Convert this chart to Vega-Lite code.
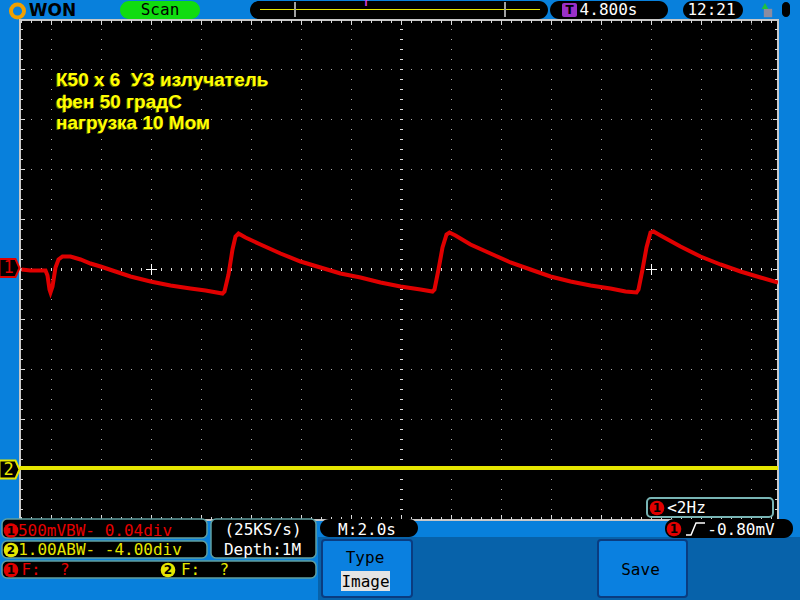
{
  "$schema": "https://vega.github.io/schema/vega-lite/v6.json",
  "width": 758,
  "height": 500,
  "autosize": {"type": "none"},
  "padding": {"left": 20, "top": 20, "right": 22, "bottom": 80},
  "background": "#0880dc",
  "config": {"view": {"fill": "black", "stroke": "#c8c8c8", "strokeWidth": 2}},
  "datasets": {
    "ch1": [
      {"x": -7.6, "y": 0}, {"x": -7.42, "y": -0.02}, {"x": -7.22, "y": -0.02}, {"x": -7.12, "y": -0.02},
      {"x": -7.08, "y": -0.12}, {"x": -7.04, "y": -0.4}, {"x": -7.02, "y": -0.46}, {"x": -6.98, "y": -0.34},
      {"x": -6.92, "y": 0.04}, {"x": -6.86, "y": 0.2}, {"x": -6.78, "y": 0.26}, {"x": -6.62, "y": 0.26},
      {"x": -6.42, "y": 0.2}, {"x": -6.22, "y": 0.12}, {"x": -6.02, "y": 0.06}, {"x": -5.72, "y": -0.04},
      {"x": -5.42, "y": -0.14}, {"x": -5.02, "y": -0.24}, {"x": -4.62, "y": -0.32}, {"x": -4.22, "y": -0.38},
      {"x": -3.92, "y": -0.42}, {"x": -3.58, "y": -0.48}, {"x": -3.54, "y": -0.44}, {"x": -3.46, "y": -0.1},
      {"x": -3.38, "y": 0.4}, {"x": -3.32, "y": 0.66}, {"x": -3.26, "y": 0.72}, {"x": -3.12, "y": 0.64},
      {"x": -2.82, "y": 0.5}, {"x": -2.42, "y": 0.32}, {"x": -2.02, "y": 0.16}, {"x": -1.62, "y": 0.04},
      {"x": -1.22, "y": -0.08}, {"x": -0.82, "y": -0.16}, {"x": -0.42, "y": -0.26}, {"x": -0.02, "y": -0.34},
      {"x": 0.38, "y": -0.4}, {"x": 0.62, "y": -0.44}, {"x": 0.66, "y": -0.4}, {"x": 0.74, "y": 0},
      {"x": 0.82, "y": 0.44}, {"x": 0.9, "y": 0.7}, {"x": 0.96, "y": 0.74}, {"x": 1.08, "y": 0.68},
      {"x": 1.38, "y": 0.5}, {"x": 1.78, "y": 0.32}, {"x": 2.18, "y": 0.14}, {"x": 2.58, "y": 0},
      {"x": 2.98, "y": -0.14}, {"x": 3.38, "y": -0.24}, {"x": 3.78, "y": -0.32}, {"x": 4.18, "y": -0.38},
      {"x": 4.48, "y": -0.44}, {"x": 4.7, "y": -0.46}, {"x": 4.74, "y": -0.4}, {"x": 4.82, "y": 0},
      {"x": 4.9, "y": 0.44}, {"x": 4.98, "y": 0.74}, {"x": 5.04, "y": 0.76}, {"x": 5.18, "y": 0.68},
      {"x": 5.58, "y": 0.46}, {"x": 5.98, "y": 0.26}, {"x": 6.38, "y": 0.1}, {"x": 6.78, "y": -0.04},
      {"x": 7.18, "y": -0.16}, {"x": 7.53, "y": -0.26}
    ],
    "ch2": [{"x": -7.63, "y": -3.97}, {"x": 7.53, "y": -3.97}],
    "gridv": [{"x": -7}, {"x": -6}, {"x": -5}, {"x": -4}, {"x": -3}, {"x": -2}, {"x": -1}, {"x": 1}, {"x": 2}, {"x": 3}, {"x": 4}, {"x": 5}, {"x": 6}, {"x": 7}],
    "gridh": [{"y": -4}, {"y": -3}, {"y": -2}, {"y": -1}, {"y": 1}, {"y": 2}, {"y": 3}, {"y": 4}],
    "center": [
      {"x": -7.61, "x2": 7.53, "y": 0, "y2": 0},
      {"x": 0, "x2": 0, "y": 5.01, "y2": -5.01}
    ],
    "edges": [
      {"kind": "s", "x": -7.61, "x2": 7.53, "y": 4.99, "y2": 4.99},
      {"kind": "s", "x": -7.61, "x2": 7.53, "y": -5.01, "y2": -5.01},
      {"kind": "s", "x": -7.63, "x2": -7.63, "y": 5.01, "y2": -5.01},
      {"kind": "s", "x": 7.53, "x2": 7.53, "y": 5.01, "y2": -5.01},
      {"kind": "l", "x": -7.01, "x2": 7.0, "y": 4.99, "y2": 4.99},
      {"kind": "l", "x": -7.01, "x2": 7.0, "y": -5.01, "y2": -5.01},
      {"kind": "l", "x": -7.63, "x2": -7.63, "y": 4.01, "y2": -4.01},
      {"kind": "l", "x": 7.53, "x2": 7.53, "y": 4.01, "y2": -4.01}
    ],
    "cross": [{"x": -5, "y": 0}, {"x": 5, "y": 0}],
    "rects": [
      {"kind": "panel", "x1": -1.67, "x2": 7.97, "y1": -5.35, "y2": -6.61},
      {"kind": "button", "x1": -1.59, "x2": 0.21, "y1": -5.41, "y2": -6.55},
      {"kind": "button", "x1": 3.93, "x2": 5.71, "y1": -5.41, "y2": -6.55},
      {"kind": "label", "x1": -1.21, "x2": -0.23, "y1": -6.03, "y2": -6.43},
      {"kind": "pill", "x1": -3.03, "x2": 2.93, "y1": 5.37, "y2": 5.01},
      {"kind": "pill", "x1": 2.97, "x2": 5.33, "y1": 5.37, "y2": 5.01},
      {"kind": "pill", "x1": 5.63, "x2": 6.83, "y1": 5.37, "y2": 5.01},
      {"kind": "pill", "x1": -1.63, "x2": 0.33, "y1": -4.99, "y2": -5.35},
      {"kind": "pill", "x1": 5.27, "x2": 7.83, "y1": -4.99, "y2": -5.37},
      {"kind": "box", "x1": -7.99, "x2": -3.89, "y1": -4.99, "y2": -5.37},
      {"kind": "box", "x1": -7.99, "x2": -3.89, "y1": -5.43, "y2": -5.77},
      {"kind": "box", "x1": -3.81, "x2": -1.71, "y1": -4.99, "y2": -5.77},
      {"kind": "box", "x1": -7.99, "x2": -1.71, "y1": -5.83, "y2": -6.17},
      {"kind": "hzbox", "x1": 4.91, "x2": 7.43, "y1": -4.57, "y2": -4.95},
      {"kind": "scan", "x1": -5.63, "x2": -4.03, "y1": 5.37, "y2": 5.01},
      {"kind": "icon", "x1": 3.21, "x2": 3.51, "y1": 5.33, "y2": 5.05},
      {"kind": "battery", "x1": 7.61, "x2": 7.77, "y1": 5.35, "y2": 5.05}
    ],
    "labels": [
      {"kind": "white", "text": "4.800s", "x": 4.14, "y": 5.19},
      {"kind": "white", "text": "12:21", "x": 6.2, "y": 5.19},
      {"kind": "white", "text": "(25KS/s)", "x": -2.77, "y": -5.21},
      {"kind": "white", "text": "Depth:1M", "x": -2.78, "y": -5.6},
      {"kind": "white", "text": "M:2.0s", "x": -0.69, "y": -5.2},
      {"kind": "white", "text": "<2Hz", "x": 5.7, "y": -4.77},
      {"kind": "white", "text": "-0.80mV", "x": 6.79, "y": -5.21},
      {"kind": "red", "text": "500mVBW- 0.04div", "x": -6.13, "y": -5.22},
      {"kind": "red", "text": "F:\u00a0\u00a0?", "x": -7.12, "y": -6.01},
      {"kind": "yellow", "text": "1.00ABW- -4.00div", "x": -6.03, "y": -5.61},
      {"kind": "yellow", "text": "F:\u00a0\u00a0?", "x": -3.93, "y": -6.01},
      {"kind": "black", "text": "Scan", "x": -4.83, "y": 5.19},
      {"kind": "black", "text": "Type", "x": -0.73, "y": -5.76},
      {"kind": "black", "text": "Image", "x": -0.72, "y": -6.24},
      {"kind": "black", "text": "Save", "x": 4.78, "y": -6.0}
    ],
    "nums": [
      {"ch": "1", "x": -7.81, "y": -5.22},
      {"ch": "1", "x": -7.81, "y": -6.01},
      {"ch": "1", "x": 5.11, "y": -4.77},
      {"ch": "1", "x": 5.45, "y": -5.19},
      {"ch": "2", "x": -7.81, "y": -5.61},
      {"ch": "2", "x": -4.67, "y": -6.01}
    ],
    "chmark": [{"ch": "1", "x": -7.84, "y": 0.03}, {"ch": "2", "x": -7.84, "y": -4.0}],
    "notes": [
      {"line": "К50 х 6\u00a0\u00a0УЗ излучатель", "x": -6.91, "y": 3.79},
      {"line": "фен 50 градС", "x": -6.91, "y": 3.36},
      {"line": "нагрузка 10 Мом", "x": -6.91, "y": 2.93}
    ],
    "tbline": [{"x": -2.83, "y": 5.2}, {"x": 2.77, "y": 5.2}],
    "brackets": [{"x": -2.13, "y1": 5.35, "y2": 5.05}, {"x": 2.07, "y1": 5.35, "y2": 5.05}],
    "tmark": [{"text": "T", "x": -0.71, "y": 5.31}],
    "logo": [{"text": "WON", "x": -6.98, "y": 5.17, "rx": -7.68}],
    "ticon": [{"text": "T", "x": 3.36, "y": 5.19}],
    "edgesym": [{"x": 5.69, "y": -5.31}, {"x": 5.79, "y": -5.31}, {"x": 5.89, "y": -5.07}, {"x": 6.07, "y": -5.07}],
    "usb": [{"part": "dev", "x": 7.33, "y": 5.13}, {"part": "arrow", "x": 7.27, "y": 5.27}]
  },
  "layer": [
    {
      "data": {"name": "gridv"},
      "mark": {"type": "rule", "stroke": "#a8a8a8", "strokeWidth": 1, "strokeDash": [1, 9], "clip": true},
      "encoding": {
        "x": {"field": "x", "type": "quantitative", "scale": {"domain": [-7.63, 7.53], "nice": false, "zero": false}, "axis": null},
        "y": {"datum": 5.01, "type": "quantitative", "scale": {"domain": [-5.01, 4.99], "nice": false, "zero": false}, "axis": null},
        "y2": {"datum": -5.01}
      }
    },
    {
      "data": {"name": "gridh"},
      "mark": {"type": "rule", "stroke": "#a8a8a8", "strokeWidth": 1, "strokeDash": [1, 9], "clip": true},
      "encoding": {
        "y": {"field": "y", "type": "quantitative", "scale": {"domain": [-5.01, 4.99], "nice": false, "zero": false}, "axis": null},
        "x": {"datum": -7.61, "type": "quantitative", "scale": {"domain": [-7.63, 7.53], "nice": false, "zero": false}, "axis": null},
        "x2": {"datum": 7.53}
      }
    },
    {
      "data": {"name": "center"},
      "mark": {"type": "rule", "stroke": "#dcdcdc", "strokeWidth": 3, "strokeDash": [1, 9], "clip": true},
      "encoding": {
        "x": {"field": "x", "type": "quantitative", "scale": {"domain": [-7.63, 7.53], "nice": false, "zero": false}, "axis": null},
        "x2": {"field": "x2"},
        "y": {"field": "y", "type": "quantitative", "scale": {"domain": [-5.01, 4.99], "nice": false, "zero": false}, "axis": null},
        "y2": {"field": "y2"}
      }
    },
    {
      "data": {"name": "edges"},
      "transform": [{"filter": "datum.kind === 's'"}],
      "mark": {"type": "rule", "stroke": "#d8d8d8", "strokeWidth": 6, "strokeDash": [1, 9], "clip": true},
      "encoding": {
        "x": {"field": "x", "type": "quantitative", "scale": {"domain": [-7.63, 7.53], "nice": false, "zero": false}, "axis": null},
        "x2": {"field": "x2"},
        "y": {"field": "y", "type": "quantitative", "scale": {"domain": [-5.01, 4.99], "nice": false, "zero": false}, "axis": null},
        "y2": {"field": "y2"}
      }
    },
    {
      "data": {"name": "edges"},
      "transform": [{"filter": "datum.kind === 'l'"}],
      "mark": {"type": "rule", "stroke": "#d8d8d8", "strokeWidth": 10, "strokeDash": [1, 49], "clip": true},
      "encoding": {
        "x": {"field": "x", "type": "quantitative", "scale": {"domain": [-7.63, 7.53], "nice": false, "zero": false}, "axis": null},
        "x2": {"field": "x2"},
        "y": {"field": "y", "type": "quantitative", "scale": {"domain": [-5.01, 4.99], "nice": false, "zero": false}, "axis": null},
        "y2": {"field": "y2"}
      }
    },
    {
      "data": {"name": "cross"},
      "mark": {"type": "point", "shape": "M-1,0H1M0,-1V1", "size": 121, "filled": false, "stroke": "white", "strokeWidth": 1, "opacity": 1},
      "encoding": {
        "x": {"field": "x", "type": "quantitative", "scale": {"domain": [-7.63, 7.53], "nice": false, "zero": false}, "axis": null},
        "y": {"field": "y", "type": "quantitative", "scale": {"domain": [-5.01, 4.99], "nice": false, "zero": false}, "axis": null}
      }
    },
    {
      "data": {"name": "rects"},
      "transform": [{"filter": "datum.kind === 'panel'"}],
      "mark": {"type": "rect", "fill": "#0762aa", "clip": false},
      "encoding": {
        "x": {"field": "x1", "type": "quantitative", "scale": {"domain": [-7.63, 7.53], "nice": false, "zero": false}, "axis": null},
        "x2": {"field": "x2"},
        "y": {"field": "y1", "type": "quantitative", "scale": {"domain": [-5.01, 4.99], "nice": false, "zero": false}, "axis": null},
        "y2": {"field": "y2"}
      }
    },
    {
      "data": {"name": "rects"},
      "transform": [{"filter": "datum.kind === 'button'"}],
      "mark": {"type": "rect", "fill": "#0a80e0", "stroke": "#0a3c80", "strokeWidth": 2, "cornerRadius": 3, "clip": false},
      "encoding": {
        "x": {"field": "x1", "type": "quantitative", "scale": {"domain": [-7.63, 7.53], "nice": false, "zero": false}, "axis": null},
        "x2": {"field": "x2"},
        "y": {"field": "y1", "type": "quantitative", "scale": {"domain": [-5.01, 4.99], "nice": false, "zero": false}, "axis": null},
        "y2": {"field": "y2"}
      }
    },
    {
      "data": {"name": "rects"},
      "transform": [{"filter": "datum.kind === 'label'"}],
      "mark": {"type": "rect", "fill": "#e4e4e4", "clip": false},
      "encoding": {
        "x": {"field": "x1", "type": "quantitative", "scale": {"domain": [-7.63, 7.53], "nice": false, "zero": false}, "axis": null},
        "x2": {"field": "x2"},
        "y": {"field": "y1", "type": "quantitative", "scale": {"domain": [-5.01, 4.99], "nice": false, "zero": false}, "axis": null},
        "y2": {"field": "y2"}
      }
    },
    {
      "data": {"name": "rects"},
      "transform": [{"filter": "datum.kind === 'pill' || datum.kind === 'battery'"}],
      "mark": {"type": "rect", "fill": "black", "cornerRadius": 9, "clip": false},
      "encoding": {
        "x": {"field": "x1", "type": "quantitative", "scale": {"domain": [-7.63, 7.53], "nice": false, "zero": false}, "axis": null},
        "x2": {"field": "x2"},
        "y": {"field": "y1", "type": "quantitative", "scale": {"domain": [-5.01, 4.99], "nice": false, "zero": false}, "axis": null},
        "y2": {"field": "y2"}
      }
    },
    {
      "data": {"name": "rects"},
      "transform": [{"filter": "datum.kind === 'box'"}],
      "mark": {"type": "rect", "fill": "black", "stroke": "#5f9ea0", "strokeWidth": 1.5, "cornerRadius": 5, "clip": false},
      "encoding": {
        "x": {"field": "x1", "type": "quantitative", "scale": {"domain": [-7.63, 7.53], "nice": false, "zero": false}, "axis": null},
        "x2": {"field": "x2"},
        "y": {"field": "y1", "type": "quantitative", "scale": {"domain": [-5.01, 4.99], "nice": false, "zero": false}, "axis": null},
        "y2": {"field": "y2"}
      }
    },
    {
      "data": {"name": "rects"},
      "transform": [{"filter": "datum.kind === 'hzbox'"}],
      "mark": {"type": "rect", "fill": "black", "stroke": "#78b4b4", "strokeWidth": 2, "cornerRadius": 4, "clip": false},
      "encoding": {
        "x": {"field": "x1", "type": "quantitative", "scale": {"domain": [-7.63, 7.53], "nice": false, "zero": false}, "axis": null},
        "x2": {"field": "x2"},
        "y": {"field": "y1", "type": "quantitative", "scale": {"domain": [-5.01, 4.99], "nice": false, "zero": false}, "axis": null},
        "y2": {"field": "y2"}
      }
    },
    {
      "data": {"name": "rects"},
      "transform": [{"filter": "datum.kind === 'scan'"}],
      "mark": {"type": "rect", "fill": "#10dc10", "cornerRadius": 9, "clip": false},
      "encoding": {
        "x": {"field": "x1", "type": "quantitative", "scale": {"domain": [-7.63, 7.53], "nice": false, "zero": false}, "axis": null},
        "x2": {"field": "x2"},
        "y": {"field": "y1", "type": "quantitative", "scale": {"domain": [-5.01, 4.99], "nice": false, "zero": false}, "axis": null},
        "y2": {"field": "y2"}
      }
    },
    {
      "data": {"name": "rects"},
      "transform": [{"filter": "datum.kind === 'icon'"}],
      "mark": {"type": "rect", "fill": "#9a30c8", "cornerRadius": 2, "clip": false},
      "encoding": {
        "x": {"field": "x1", "type": "quantitative", "scale": {"domain": [-7.63, 7.53], "nice": false, "zero": false}, "axis": null},
        "x2": {"field": "x2"},
        "y": {"field": "y1", "type": "quantitative", "scale": {"domain": [-5.01, 4.99], "nice": false, "zero": false}, "axis": null},
        "y2": {"field": "y2"}
      }
    },
    {
      "data": {"name": "ch2"},
      "mark": {"type": "line", "stroke": "#e6e600", "strokeWidth": 4, "clip": true},
      "encoding": {
        "x": {"field": "x", "type": "quantitative", "scale": {"domain": [-7.63, 7.53], "nice": false, "zero": false}, "axis": null},
        "y": {"field": "y", "type": "quantitative", "scale": {"domain": [-5.01, 4.99], "nice": false, "zero": false}, "axis": null}
      }
    },
    {
      "data": {"name": "ch1"},
      "mark": {"type": "line", "stroke": "#e00000", "strokeWidth": 4, "clip": true},
      "encoding": {
        "x": {"field": "x", "type": "quantitative", "scale": {"domain": [-7.63, 7.53], "nice": false, "zero": false}, "axis": null},
        "y": {"field": "y", "type": "quantitative", "scale": {"domain": [-5.01, 4.99], "nice": false, "zero": false}, "axis": null}
      }
    },
    {
      "data": {"name": "chmark"},
      "mark": {"type": "point", "shape": "M-1,-0.9L0.6,-0.9L1,0L0.6,0.9L-1,0.9Z", "size": 400, "filled": true, "fill": "black", "strokeWidth": 2, "opacity": 1, "clip": false},
      "encoding": {
        "x": {"field": "x", "type": "quantitative", "scale": {"domain": [-7.63, 7.53], "nice": false, "zero": false}, "axis": null},
        "y": {"field": "y", "type": "quantitative", "scale": {"domain": [-5.01, 4.99], "nice": false, "zero": false}, "axis": null},
        "stroke": {"field": "ch", "type": "nominal", "scale": {"domain": ["1", "2"], "range": ["#e00000", "#e6e600"]}, "legend": null}
      }
    },
    {
      "data": {"name": "chmark"},
      "mark": {"type": "text", "font": "DejaVu Sans Mono", "fontSize": 17, "baseline": "middle", "align": "center", "dx": -1, "clip": false},
      "encoding": {
        "x": {"field": "x", "type": "quantitative", "scale": {"domain": [-7.63, 7.53], "nice": false, "zero": false}, "axis": null},
        "y": {"field": "y", "type": "quantitative", "scale": {"domain": [-5.01, 4.99], "nice": false, "zero": false}, "axis": null},
        "text": {"field": "ch"},
        "color": {"field": "ch", "type": "nominal", "scale": {"domain": ["1", "2"], "range": ["#e00000", "#e6e600"]}, "legend": null}
      }
    },
    {
      "data": {"name": "notes"},
      "mark": {"type": "text", "font": "Liberation Sans", "fontWeight": "bold", "fontSize": 19, "baseline": "middle", "align": "left", "fill": "#5c5c00", "dx": -1, "dy": 1, "clip": false},
      "encoding": {
        "x": {"field": "x", "type": "quantitative", "scale": {"domain": [-7.63, 7.53], "nice": false, "zero": false}, "axis": null},
        "y": {"field": "y", "type": "quantitative", "scale": {"domain": [-5.01, 4.99], "nice": false, "zero": false}, "axis": null},
        "text": {"field": "line"}
      }
    },
    {
      "data": {"name": "notes"},
      "mark": {"type": "text", "font": "Liberation Sans", "fontWeight": "bold", "fontSize": 19, "baseline": "middle", "align": "left", "fill": "#ffff00", "clip": false},
      "encoding": {
        "x": {"field": "x", "type": "quantitative", "scale": {"domain": [-7.63, 7.53], "nice": false, "zero": false}, "axis": null},
        "y": {"field": "y", "type": "quantitative", "scale": {"domain": [-5.01, 4.99], "nice": false, "zero": false}, "axis": null},
        "text": {"field": "line"}
      }
    },
    {
      "data": {"name": "tbline"},
      "mark": {"type": "line", "stroke": "#e6e600", "strokeWidth": 1, "clip": false},
      "encoding": {
        "x": {"field": "x", "type": "quantitative", "scale": {"domain": [-7.63, 7.53], "nice": false, "zero": false}, "axis": null},
        "y": {"field": "y", "type": "quantitative", "scale": {"domain": [-5.01, 4.99], "nice": false, "zero": false}, "axis": null}
      }
    },
    {
      "data": {"name": "brackets"},
      "mark": {"type": "rule", "stroke": "#a0a0a0", "strokeWidth": 2, "clip": false},
      "encoding": {
        "x": {"field": "x", "type": "quantitative", "scale": {"domain": [-7.63, 7.53], "nice": false, "zero": false}, "axis": null},
        "y": {"field": "y1", "type": "quantitative", "scale": {"domain": [-5.01, 4.99], "nice": false, "zero": false}, "axis": null},
        "y2": {"field": "y2"}
      }
    },
    {
      "data": {"name": "tmark"},
      "mark": {"type": "text", "font": "DejaVu Sans", "fontWeight": "bold", "fontSize": 8, "baseline": "middle", "align": "center", "fill": "#e040e0", "clip": false},
      "encoding": {
        "x": {"field": "x", "type": "quantitative", "scale": {"domain": [-7.63, 7.53], "nice": false, "zero": false}, "axis": null},
        "y": {"field": "y", "type": "quantitative", "scale": {"domain": [-5.01, 4.99], "nice": false, "zero": false}, "axis": null},
        "text": {"field": "text"}
      }
    },
    {
      "data": {"name": "logo"},
      "mark": {"type": "point", "shape": "circle", "size": 170, "filled": false, "stroke": "#f0a000", "strokeWidth": 4, "opacity": 1, "clip": false},
      "encoding": {
        "x": {"field": "rx", "type": "quantitative", "scale": {"domain": [-7.63, 7.53], "nice": false, "zero": false}, "axis": null},
        "y": {"field": "y", "type": "quantitative", "scale": {"domain": [-5.01, 4.99], "nice": false, "zero": false}, "axis": null}
      }
    },
    {
      "data": {"name": "logo"},
      "mark": {"type": "text", "font": "DejaVu Sans", "fontWeight": "bold", "fontSize": 17, "baseline": "middle", "align": "center", "fill": "black", "clip": false},
      "encoding": {
        "x": {"field": "x", "type": "quantitative", "scale": {"domain": [-7.63, 7.53], "nice": false, "zero": false}, "axis": null},
        "y": {"field": "y", "type": "quantitative", "scale": {"domain": [-5.01, 4.99], "nice": false, "zero": false}, "axis": null},
        "text": {"field": "text"}
      }
    },
    {
      "data": {"name": "ticon"},
      "mark": {"type": "text", "font": "DejaVu Sans", "fontWeight": "bold", "fontSize": 12, "baseline": "middle", "align": "center", "fill": "black", "clip": false},
      "encoding": {
        "x": {"field": "x", "type": "quantitative", "scale": {"domain": [-7.63, 7.53], "nice": false, "zero": false}, "axis": null},
        "y": {"field": "y", "type": "quantitative", "scale": {"domain": [-5.01, 4.99], "nice": false, "zero": false}, "axis": null},
        "text": {"field": "text"}
      }
    },
    {
      "data": {"name": "usb"},
      "transform": [{"filter": "datum.part === 'dev'"}],
      "mark": {"type": "point", "shape": "square", "size": 70, "filled": true, "fill": "#8c8ca0", "opacity": 1, "clip": false},
      "encoding": {
        "x": {"field": "x", "type": "quantitative", "scale": {"domain": [-7.63, 7.53], "nice": false, "zero": false}, "axis": null},
        "y": {"field": "y", "type": "quantitative", "scale": {"domain": [-5.01, 4.99], "nice": false, "zero": false}, "axis": null}
      }
    },
    {
      "data": {"name": "usb"},
      "transform": [{"filter": "datum.part === 'arrow'"}],
      "mark": {"type": "point", "shape": "triangle-up", "size": 45, "filled": true, "fill": "#20c040", "opacity": 1, "clip": false},
      "encoding": {
        "x": {"field": "x", "type": "quantitative", "scale": {"domain": [-7.63, 7.53], "nice": false, "zero": false}, "axis": null},
        "y": {"field": "y", "type": "quantitative", "scale": {"domain": [-5.01, 4.99], "nice": false, "zero": false}, "axis": null}
      }
    },
    {
      "data": {"name": "nums"},
      "mark": {"type": "point", "shape": "circle", "size": 215, "filled": true, "opacity": 1, "clip": false},
      "encoding": {
        "x": {"field": "x", "type": "quantitative", "scale": {"domain": [-7.63, 7.53], "nice": false, "zero": false}, "axis": null},
        "y": {"field": "y", "type": "quantitative", "scale": {"domain": [-5.01, 4.99], "nice": false, "zero": false}, "axis": null},
        "color": {"field": "ch", "type": "nominal", "scale": {"domain": ["1", "2"], "range": ["#e00000", "#e6e600"]}, "legend": null}
      }
    },
    {
      "data": {"name": "nums"},
      "mark": {"type": "text", "font": "DejaVu Sans", "fontWeight": "bold", "fontSize": 12, "baseline": "middle", "align": "center", "fill": "black", "clip": false},
      "encoding": {
        "x": {"field": "x", "type": "quantitative", "scale": {"domain": [-7.63, 7.53], "nice": false, "zero": false}, "axis": null},
        "y": {"field": "y", "type": "quantitative", "scale": {"domain": [-5.01, 4.99], "nice": false, "zero": false}, "axis": null},
        "text": {"field": "ch"}
      }
    },
    {
      "data": {"name": "edgesym"},
      "mark": {"type": "line", "stroke": "white", "strokeWidth": 1.5, "clip": false},
      "encoding": {
        "x": {"field": "x", "type": "quantitative", "scale": {"domain": [-7.63, 7.53], "nice": false, "zero": false}, "axis": null},
        "y": {"field": "y", "type": "quantitative", "scale": {"domain": [-5.01, 4.99], "nice": false, "zero": false}, "axis": null}
      }
    },
    {
      "data": {"name": "labels"},
      "transform": [{"filter": "datum.kind === 'white'"}],
      "mark": {"type": "text", "font": "DejaVu Sans Mono", "fontSize": 16, "baseline": "middle", "align": "center", "fill": "white", "clip": false},
      "encoding": {
        "x": {"field": "x", "type": "quantitative", "scale": {"domain": [-7.63, 7.53], "nice": false, "zero": false}, "axis": null},
        "y": {"field": "y", "type": "quantitative", "scale": {"domain": [-5.01, 4.99], "nice": false, "zero": false}, "axis": null},
        "text": {"field": "text"}
      }
    },
    {
      "data": {"name": "labels"},
      "transform": [{"filter": "datum.kind === 'red'"}],
      "mark": {"type": "text", "font": "DejaVu Sans Mono", "fontSize": 16, "baseline": "middle", "align": "center", "fill": "#e60000", "clip": false},
      "encoding": {
        "x": {"field": "x", "type": "quantitative", "scale": {"domain": [-7.63, 7.53], "nice": false, "zero": false}, "axis": null},
        "y": {"field": "y", "type": "quantitative", "scale": {"domain": [-5.01, 4.99], "nice": false, "zero": false}, "axis": null},
        "text": {"field": "text"}
      }
    },
    {
      "data": {"name": "labels"},
      "transform": [{"filter": "datum.kind === 'yellow'"}],
      "mark": {"type": "text", "font": "DejaVu Sans Mono", "fontSize": 16, "baseline": "middle", "align": "center", "fill": "#e6e600", "clip": false},
      "encoding": {
        "x": {"field": "x", "type": "quantitative", "scale": {"domain": [-7.63, 7.53], "nice": false, "zero": false}, "axis": null},
        "y": {"field": "y", "type": "quantitative", "scale": {"domain": [-5.01, 4.99], "nice": false, "zero": false}, "axis": null},
        "text": {"field": "text"}
      }
    },
    {
      "data": {"name": "labels"},
      "transform": [{"filter": "datum.kind === 'black'"}],
      "mark": {"type": "text", "font": "DejaVu Sans Mono", "fontSize": 16, "baseline": "middle", "align": "center", "fill": "black", "clip": false},
      "encoding": {
        "x": {"field": "x", "type": "quantitative", "scale": {"domain": [-7.63, 7.53], "nice": false, "zero": false}, "axis": null},
        "y": {"field": "y", "type": "quantitative", "scale": {"domain": [-5.01, 4.99], "nice": false, "zero": false}, "axis": null},
        "text": {"field": "text"}
      }
    }
  ]
}
